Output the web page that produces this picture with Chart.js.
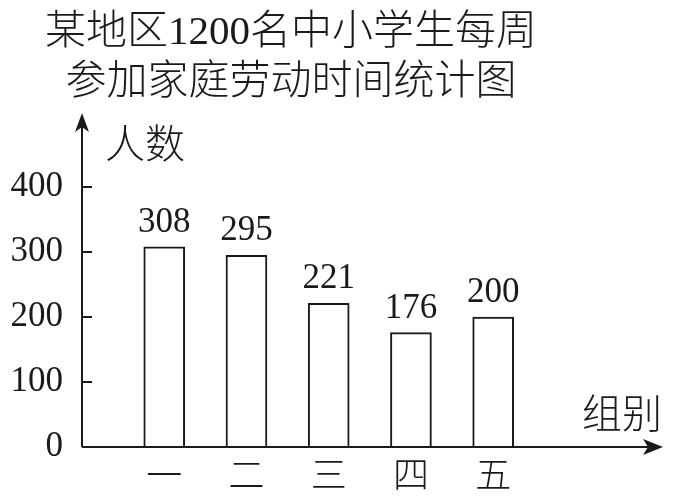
<!DOCTYPE html>
<html>
<head>
<meta charset="utf-8">
<script src="https://cdn.jsdelivr.net/npm/chart.js@4"></script>
<style>
  html, body { margin: 0; padding: 0; background: #fff; }
  #wrap { width: 675px; height: 503px; }
</style>
</head>
<body>
<div id="wrap"><canvas id="chart"></canvas></div>
<script>
// 数据
const categories = ['一', '二', '三', '四', '五'];
const counts = [308, 295, 221, 176, 200];
const yTicks = [0, 100, 200, 300, 400];
const titleLines = ['某地区1200名中小学生每周', '参加家庭劳动时间统计图'];
const yAxisName = '人数';
const xAxisName = '组别';

const INK = '#1a1a1a';
const serif = '"Liberation Serif", "Noto Sans CJK SC", serif';
const cjk = '"Noto Sans CJK SC", sans-serif';

// 坐标轴 + 箭头 + 内侧刻度
const axisArrows = {
    id: 'axisArrows',
    afterDraw(chart) {
        const { ctx, chartArea: a, scales } = chart;
        const L = a.left, B = a.bottom;
        const yTip = a.top - 74;
        const xTip = a.right + 81;
        ctx.save();
        ctx.strokeStyle = INK;
        ctx.fillStyle = INK;
        ctx.lineWidth = 2;

        ctx.beginPath();
        ctx.moveTo(L, B);
        ctx.lineTo(L, yTip + 10);
        ctx.moveTo(L, B);
        ctx.lineTo(xTip - 10, B);
        ctx.stroke();

        // y 箭头
        ctx.beginPath();
        ctx.moveTo(L, yTip);
        ctx.lineTo(L - 7, yTip + 19);
        ctx.lineTo(L, yTip + 14);
        ctx.lineTo(L + 7, yTip + 19);
        ctx.closePath();
        ctx.fill();
        // x 箭头
        ctx.beginPath();
        ctx.moveTo(xTip, B);
        ctx.lineTo(xTip - 20, B - 8);
        ctx.lineTo(xTip - 15, B);
        ctx.lineTo(xTip - 20, B + 8);
        ctx.closePath();
        ctx.fill();

        // 刻度线朝里
        ctx.beginPath();
        yTicks.forEach(v => {
            if (v === 0) return;
            const py = scales.y.getPixelForValue(v);
            ctx.moveTo(L, py);
            ctx.lineTo(L + 10, py);
        });
        ctx.stroke();

        ctx.font = '300 40px ' + cjk;
        ctx.textBaseline = 'middle';
        ctx.textAlign = 'left';
        ctx.fillText(yAxisName, L + 23, a.top - 44);
        ctx.textAlign = 'right';
        ctx.fillText(xAxisName, xTip - 1, B - 34);
        ctx.restore();
    }
};

// 柱顶数值
const barValues = {
    id: 'barValues',
    afterDatasetsDraw(chart) {
        const { ctx } = chart;
        const meta = chart.getDatasetMeta(0);
        ctx.save();
        ctx.font = '35px ' + serif;
        ctx.fillStyle = INK;
        ctx.textAlign = 'center';
        ctx.textBaseline = 'alphabetic';
        meta.data.forEach((bar, i) => {
            ctx.fillText(String(counts[i]), bar.x, bar.y - 15);
        });
        ctx.restore();
    }
};

try {
    const ctx = document.getElementById('chart');
    new Chart(ctx, {
        type: 'bar',
        data: {
            datasets: [{
                data: categories.map((c, i) => ({ x: i + 1, y: counts[i] })),
                backgroundColor: '#ffffff',
                borderColor: INK,
                borderWidth: 2,
                borderSkipped: 'bottom',
                barThickness: 41
            }]
        },
        options: {
            responsive: true,
            maintainAspectRatio: false,
            animation: false,
            layout: { padding: { left: 0, right: 93, top: 0, bottom: 0 } },
            plugins: {
                legend: { display: false },
                tooltip: { enabled: false },
                title: {
                    display: true,
                    text: titleLines,
                    color: INK,
                    font: { family: serif, size: 41, weight: 300, lineHeight: '50px' },
                    padding: { top: 8, bottom: 79 }
                }
            },
            scales: {
                x: {
                    type: 'linear',
                    offset: false,
                    min: 0,
                    max: 6.08,
                    grid: { display: false, drawTicks: false, offset: false },
                    border: { display: false },
                    afterBuildTicks: s => { s.ticks = categories.map((c, i) => ({ value: i + 1 })); },
                    afterFit: s => { s.height = 56; },
                    ticks: {
                        autoSkip: false,
                        maxRotation: 0,
                        padding: 6,
                        color: INK,
                        font: { family: cjk, size: 36, weight: 300 },
                        callback: v => categories[v - 1] || ''
                    }
                },
                y: {
                    min: 0,
                    max: 400,
                    grid: { display: false, drawTicks: false },
                    border: { display: false },
                    afterBuildTicks: s => { s.ticks = yTicks.map(v => ({ value: v })); },
                    afterFit: s => { s.width = 82; },
                    ticks: {
                        padding: 19,
                        color: INK,
                        font: { family: serif, size: 35 }
                    }
                }
            }
        },
        plugins: [axisArrows, barValues]
    });
} catch (error) {
    console.error('Error creating chart:', error);
}
</script>
</body>
</html>
